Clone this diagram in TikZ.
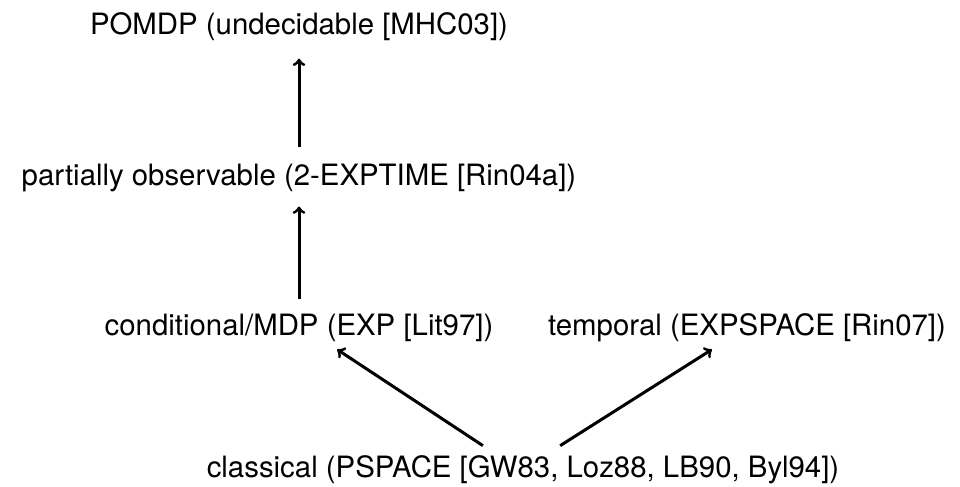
\documentclass[tikz,border=0pt]{standalone}
\usepackage{fontspec}
\setmainfont{TeX Gyre Heros}
\usepackage{tikz}
\usetikzlibrary{calc}

\begin{document}
\begin{tikzpicture}[every node/.style={font=\fontsize{20.9}{24}\selectfont,anchor=base,inner sep=0,text height=0.55cm,text depth=0.19cm}, line width=0.075cm]
					\useasboundingbox (0,0) rectangle (24,-12.15);
					\coordinate (c1) at (7.475,-0.85);
					\coordinate (c2) at (7.475,-4.625);
					\coordinate (c3) at (7.475,-8.375);
					\coordinate (c4) at (18.675,-8.375);
					\coordinate (c5) at (13.075,-11.925);
					
					\node (pomdp) at (c1) {POMDP (undecidable [MHC03])};
					\node (partial) at (c2) {partially observable (2-EXPTIME [Rin04a])};
					\node (cond) at (c3) {conditional/MDP (EXP [Lit97])};
					\node (temporal) at (c4) {temporal (EXPSPACE [Rin07])};
					\node (classical) at (c5) {classical (PSPACE [GW83, Loz88, LB90, Byl94])};
					
					\draw[->, shorten <=0.375cm, shorten >=0.39cm] (partial.north) to[] (pomdp.south);
					\draw[->, shorten <=0.325cm, shorten >=0.31cm] (cond.north) to[] (partial.south);
					\draw[->, shorten <=0.356cm, shorten >=0.245cm] ([xshift=-0.705cm]classical.north) to[] ([xshift=0.75cm]cond.south);
					\draw[->, shorten <=0.366cm, shorten >=0.25cm] ([xshift=0.62cm]classical.north) to[] ([xshift=-0.665cm]temporal.south);
				\end{tikzpicture}
\end{document}
